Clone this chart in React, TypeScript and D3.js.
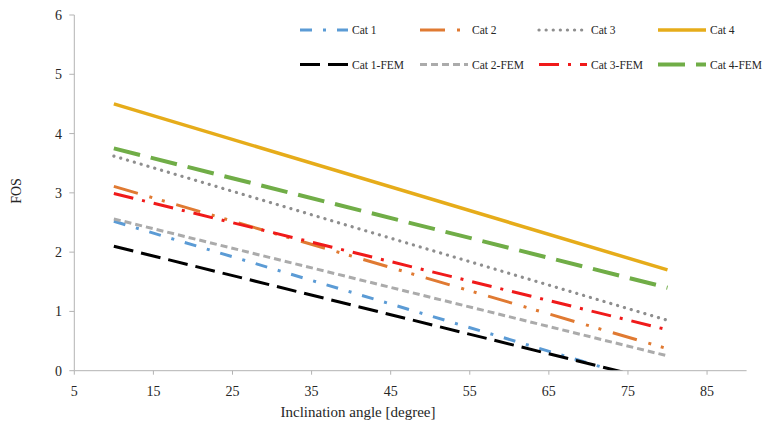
import React from "react";
import * as d3 from "d3";

const xValues = [10, 80];
const cat1 = [2.52, -0.27];
const cat2 = [3.11, 0.37];
const cat3 = [3.62, 0.85];
const cat4 = [4.5, 1.7];
const cat1Fem = [2.1, -0.21];
const cat2Fem = [2.56, 0.25];
const cat3Fem = [2.99, 0.69];
const cat4Fem = [3.75, 1.4];

const seriesNames = ["Cat 1", "Cat 2", "Cat 3", "Cat 4", "Cat 1-FEM", "Cat 2-FEM", "Cat 3-FEM", "Cat 4-FEM"];
const seriesValues = [cat1, cat2, cat3, cat4, cat1Fem, cat2Fem, cat3Fem, cat4Fem];
const xTicks = [5, 15, 25, 35, 45, 55, 65, 75, 85];
const yTicks = [0, 1, 2, 3, 4, 5, 6];

const styles = [
  { color: "#5B9BD5", width: 3, dash: "12 11 3 11", cap: "butt" },
  { color: "#E07A32", width: 3, dash: "25 12 3 10 3 12", cap: "butt" },
  { color: "#8E8E8E", width: 3.2, dash: "0.1 7", cap: "round" },
  { color: "#E6AC1A", width: 3.5, dash: "", cap: "butt" },
  { color: "#000000", width: 3, dash: "20 8", cap: "butt" },
  { color: "#ABABAB", width: 3, dash: "7 4", cap: "butt" },
  { color: "#F01A1A", width: 3, dash: "20 9 3 9", cap: "butt" },
  { color: "#70AD47", width: 4, dash: "27 11", cap: "butt" },
];

const W = 763;
const H = 425;
const FONT = '"Liberation Serif", "DejaVu Serif", "Times New Roman", serif';
const tStyle = { fontFamily: FONT };

export default function App() {
  const x = d3.scaleLinear().domain([5, 90]).range([74.3, 746.6]);
  const y = d3.scaleLinear().domain([0, 6]).range([370.7, 15]);
  const line = d3
    .line<[number, number]>()
    .x((d) => x(d[0]))
    .y((d) => y(d[1]));

  const legendCols = [300, 420, 539, 658];
  const legendRows = [30, 64.5];

  return (
    <div style={{ position: "absolute", left: 0, top: 0 }}>
      <svg width={W} height={H} style={{ display: "block", background: "#fff" }}>
        <defs>
          <clipPath id="plot">
            <rect x={x(5)} y={y(6) - 5} width={x(90) - x(5)} height={y(0) - y(6) + 5} />
          </clipPath>
        </defs>
        <g clipPath="url(#plot)">
          {seriesValues.map((vals, i) => {
            const pts = xValues.map((xv, j) => [xv, vals[j]] as [number, number]);
            const s = styles[i];
            return (
              <path
                key={seriesNames[i]}
                d={line(pts) || ""}
                fill="none"
                stroke={s.color}
                strokeWidth={s.width}
                strokeDasharray={s.dash || undefined}
                strokeLinecap={s.cap as any}
              />
            );
          })}
        </g>
        <line x1={x(5)} x2={x(5)} y1={y(6)} y2={y(0)} stroke="#B3B3B3" strokeWidth={1} />
        <line x1={x(5)} x2={x(90)} y1={y(0)} y2={y(0)} stroke="#B3B3B3" strokeWidth={1} />
        {yTicks.map((t) => (
          <g key={"y" + t}>
            <line x1={x(5) - 5} x2={x(5)} y1={y(t)} y2={y(t)} stroke="#B3B3B3" />
            <text x={62} y={y(t) + 5} textAnchor="end" fontSize={14} fill="#262626" style={tStyle}>
              {t}
            </text>
          </g>
        ))}
        {xTicks.map((t) => (
          <g key={"x" + t}>
            <line x1={x(t)} x2={x(t)} y1={y(0)} y2={y(0) + 4} stroke="#B3B3B3" />
            <text x={x(t)} y={396} textAnchor="middle" fontSize={14} fill="#262626" style={tStyle}>
              {t}
            </text>
          </g>
        ))}
        <text x={358} y={417} textAnchor="middle" fontSize={15} fill="#262626" style={tStyle}>
          Inclination angle [degree]
        </text>
        <text
          transform={`translate(21,191) rotate(-90)`}
          textAnchor="middle"
          fontSize={14}
          fill="#262626"
          style={tStyle}
        >
          FOS
        </text>
        {seriesNames.map((name, i) => {
          const cx = legendCols[i % 4];
          const cy = legendRows[Math.floor(i / 4)];
          const s = styles[i];
          return (
            <g key={"lg" + name}>
              <line
                x1={cx}
                x2={cx + 48}
                y1={cy}
                y2={cy}
                stroke={s.color}
                strokeWidth={s.width}
                strokeDasharray={s.dash || undefined}
                strokeLinecap={s.cap as any}
              />
              <text x={cx + 52} y={cy + 4} fontSize={11.5} fill="#262626" style={tStyle}>
                {name}
              </text>
            </g>
          );
        })}
      </svg>
    </div>
  );
}
